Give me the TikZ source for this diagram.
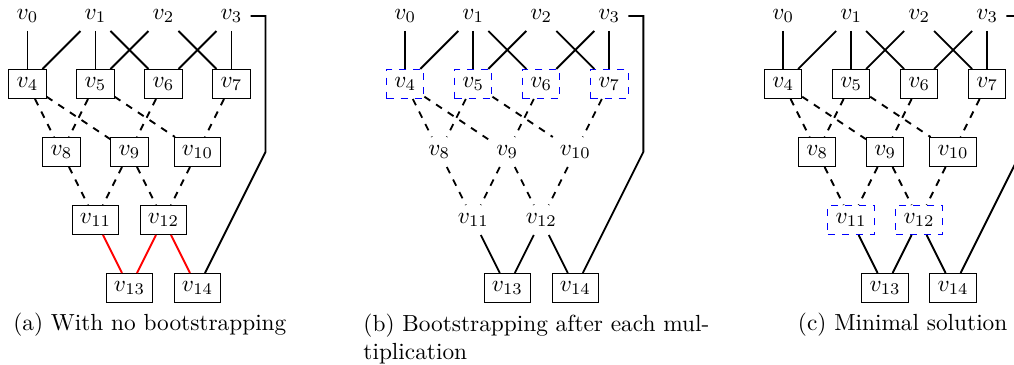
\documentclass[tikz,border=0pt]{standalone}

\begin{document}
\begin{tikzpicture}[x=1.025cm, y=1.025cm,
  box/.style={draw, thin},
  bare/.style={},
  boot/.style={draw=blue, thin, dashed},
  wire/.style={thick},
  dwire/.style={thick, dashed},
  hwire/.style={thick, red},
  legend/.style={inner sep=0pt, align=center, anchor=base}]
\useasboundingbox (-0.404,-5.132) rectangle (14.507,0.235);
% (a) sans bootstrapping
\node[bare] (a0) at (0.000, 0.000) {$v_0$};
\node[bare] (a1) at (1.000, 0.000) {$v_1$};
\node[bare] (a2) at (2.000, 0.000) {$v_2$};
\node[bare] (a3) at (3.000, 0.000) {$v_3$};
\node[box] (a4) at (0.000, -1.000) {$v_4$};
\node[box] (a5) at (1.000, -1.000) {$v_5$};
\node[box] (a6) at (2.000, -1.000) {$v_6$};
\node[box] (a7) at (3.000, -1.000) {$v_7$};
\node[box] (a8) at (0.500, -2.000) {$v_8$};
\node[box] (a9) at (1.500, -2.000) {$v_9$};
\node[box] (a10) at (2.500, -2.000) {$v_{10}$};
\node[box] (a11) at (1.000, -3.000) {$v_{11}$};
\node[box] (a12) at (2.000, -3.000) {$v_{12}$};
\node[box] (a13) at (1.500, -4.000) {$v_{13}$};
\node[box] (a14) at (2.500, -4.000) {$v_{14}$};
\coordinate (a15) at (3.500, 0.000);
\coordinate (a16) at (3.500, -2.000);
\draw[wire] (a0) -- (a4);
\draw[wire] (a1) -- (a4);
\draw[wire] (a1) -- (a5);
\draw[wire] (a2) -- (a5);
\draw[wire] (a1) -- (a6);
\draw[wire] (a3) -- (a6);
\draw[wire] (a2) -- (a7);
\draw[wire] (a3) -- (a7);
\draw[dwire] (a4) -- (a8);
\draw[dwire] (a5) -- (a8);
\draw[dwire] (a4) -- (a9);
\draw[dwire] (a6) -- (a9);
\draw[dwire] (a5) -- (a10);
\draw[dwire] (a7) -- (a10);
\draw[dwire] (a8) -- (a11);
\draw[dwire] (a9) -- (a11);
\draw[dwire] (a9) -- (a12);
\draw[dwire] (a10) -- (a12);
\draw[hwire] (a11) -- (a13);
\draw[hwire] (a12) -- (a13);
\draw[hwire] (a12) -- (a14);
\draw[wire] (a3) -- (a15) -- (a16) -- (a14);
\node[legend] (capa) at (1.800, -4.630) {(a) With no bootstrapping};
% (b) bootstrapping apres chaque multiplication
\node[bare] (b0) at (5.556, 0.000) {$v_0$};
\node[bare] (b1) at (6.556, 0.000) {$v_1$};
\node[bare] (b2) at (7.556, 0.000) {$v_2$};
\node[bare] (b3) at (8.556, 0.000) {$v_3$};
\node[boot] (b4) at (5.556, -1.000) {$v_4$};
\node[boot] (b5) at (6.556, -1.000) {$v_5$};
\node[boot] (b6) at (7.556, -1.000) {$v_6$};
\node[boot] (b7) at (8.556, -1.000) {$v_7$};
\node[bare] (b8) at (6.056, -2.000) {$v_8$};
\node[bare] (b9) at (7.056, -2.000) {$v_9$};
\node[bare] (b10) at (8.056, -2.000) {$v_{10}$};
\node[bare] (b11) at (6.556, -3.000) {$v_{11}$};
\node[bare] (b12) at (7.556, -3.000) {$v_{12}$};
\node[box] (b13) at (7.056, -4.000) {$v_{13}$};
\node[box] (b14) at (8.056, -4.000) {$v_{14}$};
\coordinate (b15) at (9.056, 0.000);
\coordinate (b16) at (9.056, -2.000);
\draw[wire] (b0) -- (b4);
\draw[wire] (b1) -- (b4);
\draw[wire] (b1) -- (b5);
\draw[wire] (b2) -- (b5);
\draw[wire] (b1) -- (b6);
\draw[wire] (b3) -- (b6);
\draw[wire] (b2) -- (b7);
\draw[wire] (b3) -- (b7);
\draw[dwire] (b4) -- (b8);
\draw[dwire] (b5) -- (b8);
\draw[dwire] (b4) -- (b9);
\draw[dwire] (b6) -- (b9);
\draw[dwire] (b5) -- (b10);
\draw[dwire] (b7) -- (b10);
\draw[dwire] (b8) -- (b11);
\draw[dwire] (b9) -- (b11);
\draw[dwire] (b9) -- (b12);
\draw[dwire] (b10) -- (b12);
\draw[wire] (b11) -- (b13);
\draw[wire] (b12) -- (b13);
\draw[wire] (b12) -- (b14);
\draw[wire] (b3) -- (b15) -- (b16) -- (b14);
\node[legend, align=left, anchor=base west] (capb) at (4.934, -5.045) {(b) Bootstrapping after each mul-\\tiplication};
% (c) solution minimale
\node[bare] (c0) at (11.112, 0.000) {$v_0$};
\node[bare] (c1) at (12.112, 0.000) {$v_1$};
\node[bare] (c2) at (13.112, 0.000) {$v_2$};
\node[bare] (c3) at (14.112, 0.000) {$v_3$};
\node[box] (c4) at (11.112, -1.000) {$v_4$};
\node[box] (c5) at (12.112, -1.000) {$v_5$};
\node[box] (c6) at (13.112, -1.000) {$v_6$};
\node[box] (c7) at (14.112, -1.000) {$v_7$};
\node[box] (c8) at (11.612, -2.000) {$v_8$};
\node[box] (c9) at (12.612, -2.000) {$v_9$};
\node[box] (c10) at (13.612, -2.000) {$v_{10}$};
\node[boot] (c11) at (12.112, -3.000) {$v_{11}$};
\node[boot] (c12) at (13.112, -3.000) {$v_{12}$};
\node[box] (c13) at (12.612, -4.000) {$v_{13}$};
\node[box] (c14) at (13.612, -4.000) {$v_{14}$};
\coordinate (c15) at (14.612, 0.000);
\coordinate (c16) at (14.612, -2.000);
\draw[wire] (c0) -- (c4);
\draw[wire] (c1) -- (c4);
\draw[wire] (c1) -- (c5);
\draw[wire] (c2) -- (c5);
\draw[wire] (c1) -- (c6);
\draw[wire] (c3) -- (c6);
\draw[wire] (c2) -- (c7);
\draw[wire] (c3) -- (c7);
\draw[dwire] (c4) -- (c8);
\draw[dwire] (c5) -- (c8);
\draw[dwire] (c4) -- (c9);
\draw[dwire] (c6) -- (c9);
\draw[dwire] (c5) -- (c10);
\draw[dwire] (c7) -- (c10);
\draw[dwire] (c8) -- (c11);
\draw[dwire] (c9) -- (c11);
\draw[dwire] (c9) -- (c12);
\draw[dwire] (c10) -- (c12);
\draw[wire] (c11) -- (c13);
\draw[wire] (c12) -- (c13);
\draw[wire] (c12) -- (c14);
\draw[wire] (c3) -- (c15) -- (c16) -- (c14);
\node[legend] (capc) at (12.870, -4.630) {(c) Minimal solution};
\end{tikzpicture}
\end{document}
